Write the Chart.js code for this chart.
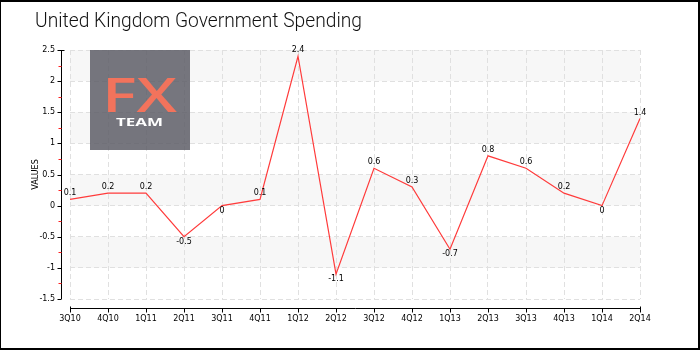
<!DOCTYPE html>
<html>
<head>
<meta charset="utf-8">
<script src="https://cdn.jsdelivr.net/npm/chart.js@4.4.0/dist/chart.umd.min.js"></script>
<style>
  html, body { margin: 0; padding: 0; background: #fff; }
  #wrap { position: relative; width: 700px; height: 350px; overflow: hidden; }
  #chart { position: absolute; left: 0; top: 0; }
  #frame { position: absolute; left: 0; top: 0; width: 700px; height: 350px; box-sizing: border-box;
           border: solid #000; border-width: 2px 2px 2px 1px; pointer-events: none; }
  #title { position: absolute; left: 35px; top: 8px; font: 300 21px Roboto; color: #111;
           white-space: nowrap; transform-origin: 0 0; }
</style>
</head>
<body>
<div id="wrap">
  <canvas id="chart" width="700" height="350"></canvas>
  <div id="title">United Kingdom Government Spending</div>
  <div id="frame"></div>
</div>
<script>
// Quarters on the x axis
const quarters = ["3Q10", "4Q10", "1Q11", "2Q11", "3Q11", "4Q11", "1Q12", "2Q12",
                  "3Q12", "4Q12", "1Q13", "2Q13", "3Q13", "4Q13", "1Q14", "2Q14"];

// Spending change per quarter
const spending = [0.1, 0.2, 0.2, -0.5, 0, 0.1, 2.4, -1.1, 0.6, 0.3, -0.7, 0.8, 0.6, 0.2, 0, 1.4];

// Value axis range
const yMin = -1.5;
const yMax = 2.5;
const yStep = 0.5;

const tickFont = { family: "DejaVu Sans", size: 8 };

// Title: squeeze to the width of the original
const title = document.getElementById("title");
const fitTitle = () => {
  title.style.transform = "none";
  const w = title.getBoundingClientRect().width;
  title.style.transform = `scaleX(${327 / w})`;
};
fitTitle();

const decor = {
  id: "decor",
  // alternating bands behind the grid
  beforeDraw(chart) {
    const { ctx, chartArea: a, scales: { y } } = chart;
    const vals = y.ticks.map(t => t.value).sort((p, q) => q - p);
    ctx.save();
    ctx.fillStyle = "#f7f7f7";
    for (let i = 0; i < vals.length - 1; i += 2) {
      const y1 = y.getPixelForValue(vals[i]);
      const y2 = y.getPixelForValue(vals[i + 1]);
      ctx.fillRect(a.left, y1, a.right - a.left, y2 - y1);
    }
    ctx.restore();
  },
  // FX TEAM logo, see-through over the grid
  beforeDatasetsDraw(chart) {
    const { ctx, chartArea: a } = chart;
    const lx = a.left + 20, ly = a.top;
    ctx.save();
    ctx.fillStyle = "rgba(88,88,98,0.82)";
    ctx.fillRect(lx, ly, 100, 100);

    ctx.fillStyle = "#f2735c";
    ctx.font = "600 48px 'Open Sans'";
    ctx.textBaseline = "alphabetic";
    let w = ctx.measureText("FX").width;
    ctx.save();
    ctx.translate(lx + 12, ly + 62);
    ctx.scale(75 / w, 0.98);
    ctx.fillText("FX", 0, 0);
    ctx.restore();

    ctx.fillStyle = "#fff";
    ctx.font = "700 11px 'Open Sans'";
    w = ctx.measureText("TEAM").width;
    ctx.save();
    ctx.translate(lx + 26, ly + 76);
    ctx.scale(47 / w, 1);
    ctx.fillText("TEAM", 0, 0);
    ctx.restore();
    ctx.restore();
  },
  // axis lines, tick marks and value labels
  afterDraw(chart) {
    const { ctx, chartArea: a, scales: { x, y } } = chart;
    ctx.save();
    ctx.lineWidth = 1;

    // y axis line
    const ax = Math.round(a.left - 9) + 0.5;
    ctx.strokeStyle = "#000";
    ctx.beginPath();
    ctx.moveTo(ax, a.top);
    ctx.lineTo(ax, a.bottom);
    ctx.moveTo(ax - 3, a.top + 0.5);
    ctx.lineTo(ax + 3, a.top + 0.5);
    y.ticks.forEach(t => {
      const py = Math.round(y.getPixelForValue(t.value)) + 0.5;
      ctx.moveTo(ax - 4, py);
      ctx.lineTo(ax, py);
    });
    ctx.stroke();

    // red minor ticks halfway between the major ones
    ctx.strokeStyle = "#ff2020";
    ctx.beginPath();
    for (let v = yMin + yStep / 2; v < yMax; v += yStep) {
      const py = Math.round(y.getPixelForValue(v)) + 0.5;
      ctx.moveTo(ax - 3, py);
      ctx.lineTo(ax, py);
    }
    ctx.stroke();

    // x axis line
    const ay = Math.round(a.bottom + 9) + 0.5;
    ctx.strokeStyle = "#000";
    ctx.beginPath();
    ctx.moveTo(a.left, ay);
    ctx.lineTo(a.right + 1, ay);
    quarters.forEach((q, i) => {
      const px = Math.round(x.getPixelForValue(i)) + 0.5;
      ctx.moveTo(px, ay - (i === 0 || i === quarters.length - 1 ? 2 : 0));
      ctx.lineTo(px, ay + 4);
    });
    ctx.stroke();

    // value labels
    const meta = chart.getDatasetMeta(0);
    ctx.fillStyle = "#000";
    ctx.font = "8px 'DejaVu Sans'";
    ctx.textAlign = "center";
    meta.data.forEach((pt, i) => {
      const v = spending[i];
      if (v <= 0) {
        ctx.textBaseline = "top";
        ctx.fillText(String(v), pt.x, pt.y + 1);
      } else {
        ctx.textBaseline = "bottom";
        ctx.fillText(String(v), pt.x, pt.y - 2);
      }
    });
    ctx.restore();
  }
};

new Chart(document.getElementById("chart"), {
  type: "line",
  data: {
    labels: quarters,
    datasets: [{
      data: spending,
      borderColor: "#ff3b3b",
      borderWidth: 1.2,
      pointRadius: 0,
      tension: 0,
      fill: false
    }]
  },
  options: {
    responsive: false,
    animation: false,
    devicePixelRatio: 1,
    layout: { padding: { top: 50, right: 60, left: 0, bottom: 0 } },
    plugins: {
      legend: { display: false },
      tooltip: { enabled: false },
      title: { display: false }
    },
    scales: {
      x: {
        offset: false,
        grid: { color: "#e0e0e0", drawTicks: false },
        border: { display: false, dash: [5, 3] },
        ticks: { font: tickFont, color: "#000", padding: 15, maxRotation: 0, autoSkip: false },
        afterFit(s) { s.height = 51; }
      },
      y: {
        min: yMin,
        max: yMax,
        grid: { color: "#e0e0e0", drawTicks: false },
        border: { display: false, dash: [5, 3] },
        ticks: { stepSize: yStep, font: tickFont, color: "#000", padding: 15,
                 callback: v => String(v) },
        title: { display: true, text: "VALUES", color: "#000", font: tickFont,
                 padding: { top: 31, bottom: 0 } },
        afterFit(s) { s.width = 70; }
      }
    }
  },
  plugins: [decor]
});
</script>
</body>
</html>
